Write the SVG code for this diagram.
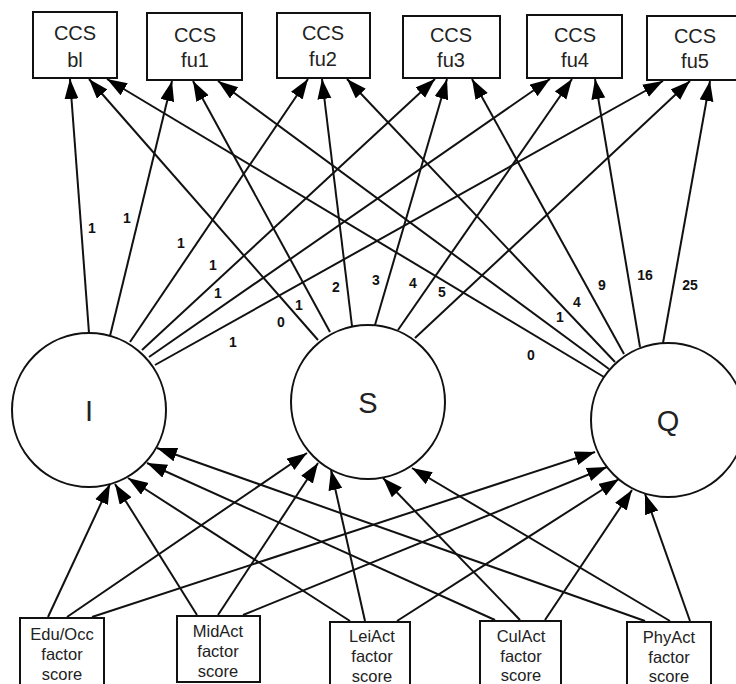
<svg xmlns="http://www.w3.org/2000/svg" width="736" height="684" viewBox="0 0 736 684">
<style>
.box{fill:#fff;stroke:#111;stroke-width:2}
.circ{fill:#fff;stroke:#111;stroke-width:2}
.t{font-family:"Liberation Sans",Arial,sans-serif;font-size:20px;fill:#222;text-anchor:middle}
.b{font-family:"Liberation Sans",Arial,sans-serif;font-size:16.5px;fill:#222;text-anchor:middle}
.c{font-family:"Liberation Sans",Arial,sans-serif;font-size:29px;fill:#222;text-anchor:middle}
.l{font-family:"Liberation Sans",Arial,sans-serif;font-size:14px;font-weight:bold;fill:#111;text-anchor:middle}
.e line{stroke:#111;stroke-width:2;marker-end:url(#ah)}
</style>
<defs>
<marker id="ah" markerUnits="userSpaceOnUse" markerWidth="22" markerHeight="16" refX="20" refY="7" orient="auto">
<path d="M0,0 L20,7 L0,14 z" fill="#000"/>
</marker>
</defs>
<rect width="736" height="684" fill="#fff"/>

<g id="ccs_bl"><rect class="box" x="33" y="12" width="84" height="66"/><text class="t" x="75" y="40">CCS</text><text class="t" x="75" y="67">bl</text></g>
<g id="ccs_fu1"><rect class="box" x="147" y="13" width="95" height="67"/><text class="t" x="195" y="42">CCS</text><text class="t" x="195" y="67">fu1</text></g>
<g id="ccs_fu2"><rect class="box" x="277" y="13" width="93" height="65"/><text class="t" x="323" y="40">CCS</text><text class="t" x="323" y="66">fu2</text></g>
<g id="ccs_fu3"><rect class="box" x="403" y="16" width="97" height="62"/><text class="t" x="451" y="42">CCS</text><text class="t" x="451" y="67">fu3</text></g>
<g id="ccs_fu4"><rect class="box" x="527" y="15" width="95" height="63"/><text class="t" x="575" y="42">CCS</text><text class="t" x="575" y="67">fu4</text></g>
<g id="ccs_fu5"><rect class="box" x="647" y="16" width="95" height="64"/><text class="t" x="695" y="43">CCS</text><text class="t" x="695" y="68">fu5</text></g>

<g id="I"><circle class="circ" cx="89" cy="410" r="77"/><text class="c" x="89" y="421">I</text></g>
<g id="S"><circle class="circ" cx="368" cy="402" r="77"/><text class="c" x="368" y="413">S</text></g>
<g id="Q"><circle class="circ" cx="668" cy="420" r="77"/><text class="c" x="668" y="431">Q</text></g>

<g id="edu"><rect class="box" x="20" y="618" width="84" height="72"/><text class="b" x="62" y="640">Edu/Occ</text><text class="b" x="62" y="660">factor</text><text class="b" x="62" y="680">score</text></g>
<g id="mid"><rect class="box" x="177" y="616" width="83" height="66"/><text class="b" x="218" y="637">MidAct</text><text class="b" x="218" y="657">factor</text><text class="b" x="218" y="677">score</text></g>
<g id="lei"><rect class="box" x="330" y="622" width="80" height="68"/><text class="b" x="372" y="642">LeiAct</text><text class="b" x="372" y="662">factor</text><text class="b" x="372" y="682">score</text></g>
<g id="cul"><rect class="box" x="480" y="621" width="81" height="69"/><text class="b" x="521" y="642">CulAct</text><text class="b" x="521" y="662">factor</text><text class="b" x="521" y="681">score</text></g>
<g id="phy"><rect class="box" x="627" y="622" width="84" height="68"/><text class="b" x="669" y="643">PhyAct</text><text class="b" x="669" y="663">factor</text><text class="b" x="669" y="682">score</text></g>

<g id="connectors" class="e">
<line x1="89" y1="333" x2="70" y2="79"/>
<line x1="110" y1="336" x2="172" y2="81"/>
<line x1="130" y1="342" x2="308" y2="79"/>
<line x1="142" y1="350" x2="435" y2="79"/>
<line x1="149" y1="357" x2="550" y2="79"/>
<line x1="155" y1="365" x2="663" y2="81"/>
<line x1="318" y1="340" x2="89" y2="79"/>
<line x1="330" y1="332" x2="193" y2="81"/>
<line x1="352" y1="326" x2="322" y2="79"/>
<line x1="375" y1="325" x2="447" y2="79"/>
<line x1="398" y1="330" x2="572" y2="79"/>
<line x1="415" y1="338" x2="690" y2="81"/>
<line x1="604" y1="377" x2="107" y2="79"/>
<line x1="609" y1="369" x2="218" y2="81"/>
<line x1="615" y1="362" x2="347" y2="79"/>
<line x1="624" y1="354" x2="472" y2="79"/>
<line x1="640" y1="347" x2="595" y2="79"/>
<line x1="663" y1="343" x2="710" y2="81"/>

<line x1="48" y1="617" x2="110" y2="484"/>
<line x1="67" y1="617" x2="307" y2="453"/>
<line x1="92" y1="617" x2="595" y2="452"/>
<line x1="197" y1="615" x2="115" y2="484"/>
<line x1="218" y1="615" x2="318" y2="463"/>
<line x1="243" y1="615" x2="607" y2="467"/>
<line x1="350" y1="621" x2="128" y2="478"/>
<line x1="365" y1="621" x2="331" y2="470"/>
<line x1="397" y1="621" x2="619" y2="479"/>
<line x1="495" y1="620" x2="147" y2="463"/>
<line x1="520" y1="620" x2="383" y2="478"/>
<line x1="545" y1="620" x2="632" y2="490"/>
<line x1="645" y1="621" x2="157" y2="448"/>
<line x1="670" y1="621" x2="412" y2="468"/>
<line x1="690" y1="621" x2="645" y2="494"/>
</g>

<g id="labels">
<text class="l" x="92" y="233">1</text>
<text class="l" x="127" y="223">1</text>
<text class="l" x="181" y="248">1</text>
<text class="l" x="213" y="270">1</text>
<text class="l" x="218" y="298">1</text>
<text class="l" x="233" y="347">1</text>
<text class="l" x="281" y="327">0</text>
<text class="l" x="299" y="310">1</text>
<text class="l" x="336" y="292">2</text>
<text class="l" x="376" y="285">3</text>
<text class="l" x="413" y="288">4</text>
<text class="l" x="442" y="297">5</text>
<text class="l" x="531" y="360">0</text>
<text class="l" x="560" y="322">1</text>
<text class="l" x="577" y="307">4</text>
<text class="l" x="602" y="290">9</text>
<text class="l" x="645" y="280">16</text>
<text class="l" x="690" y="290">25</text>
</g>
</svg>
